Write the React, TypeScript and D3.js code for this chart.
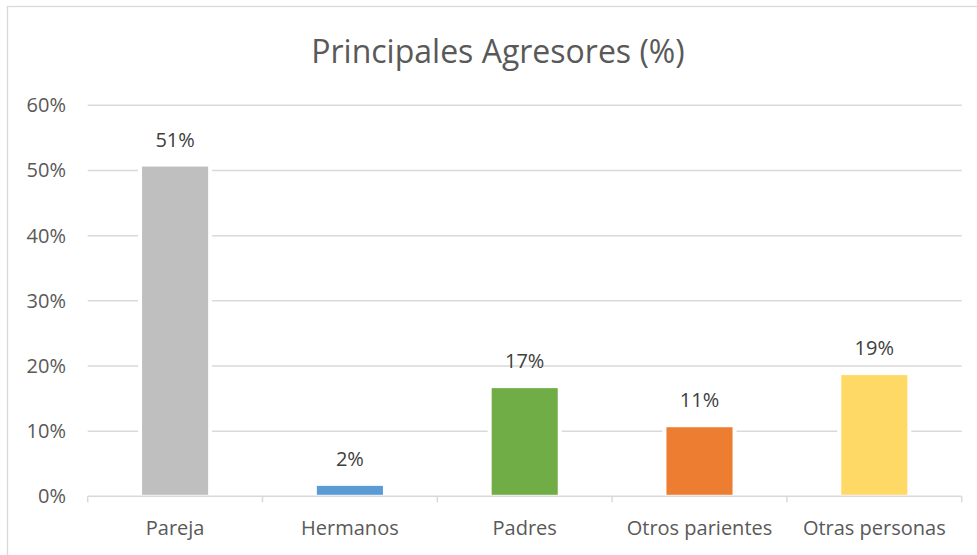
import React from "react";
import * as d3 from "d3";

const title = "Principales Agresores (%)";
const categories = ["Pareja", "Hermanos", "Padres", "Otros parientes", "Otras personas"];
const values = [0.506, 0.016, 0.166, 0.106, 0.186];
const labels = ["51%", "2%", "17%", "11%", "19%"];
const colors = ["#bfbfbf", "#5b9bd5", "#70ad47", "#ed7d31", "#ffd966"];
const yTicks = [0, 0.1, 0.2, 0.3, 0.4, 0.5, 0.6];

const W = 977;
const H = 555;
const FONT = "'Open Sans', sans-serif";

export default function App() {
  const x = d3.scaleBand<string>().domain(categories).range([87.7, 961.7]).padding(0);
  const y = d3.scaleLinear().domain([0, 0.6]).range([496.3, 105.3]);
  const bw = x.bandwidth() * 0.378;
  const boundaries = [...categories.map((c) => x(c)!), x.range()[1]];
  const fmt = d3.format(".0%");

  return (
    <svg
      width={W}
      height={H}
      style={{ position: "absolute", left: 0, top: 0, background: "#fff" }}
      fontFamily={FONT}
    >
      <rect x={0} y={0} width={W} height={H} fill="#fff" />
      <rect x={7.5} y={6.5} width={W + 20} height={H + 20} fill="#fff" stroke="#d9d9d9" strokeWidth={1.3} />
      <text x={498} y={63} textAnchor="middle" fontSize={32} fill="#595959">
        {title}
      </text>
      {yTicks.map((t) => (
        <g key={t}>
          {t > 0 && (
            <line x1={x.range()[0]} x2={x.range()[1]} y1={y(t)} y2={y(t)} stroke="#d9d9d9" strokeWidth={1.5} />
          )}
          <text x={66} y={y(t) + 7} textAnchor="end" fontSize={20} fill="#595959">
            {fmt(t)}
          </text>
        </g>
      ))}
      {categories.map((c, i) => {
        const cx = x(c)! + x.bandwidth() / 2;
        return (
          <g key={c}>
            <rect x={cx - bw / 2 - 4} y={y(values[i]) - 4} width={bw + 8} height={y(0) - y(values[i]) + 4} fill="#fff" />
            <rect x={cx - bw / 2} y={y(values[i])} width={bw} height={y(0) - y(values[i]) - 1.5} fill={colors[i]} />
            <text x={cx} y={y(values[i]) - 20} textAnchor="middle" fontSize={20} fill="#404040">
              {labels[i]}
            </text>
            <text x={cx} y={535} textAnchor="middle" fontSize={20} fill="#595959">
              {c}
            </text>
          </g>
        );
      })}
      <line x1={x.range()[0]} x2={x.range()[1]} y1={y(0)} y2={y(0)} stroke="#d9d9d9" strokeWidth={1.5} />
      {boundaries.map((b, i) => (
        <line key={i} x1={b} x2={b} y1={y(0)} y2={y(0) + 6} stroke="#d9d9d9" strokeWidth={1.5} />
      ))}
    </svg>
  );
}
